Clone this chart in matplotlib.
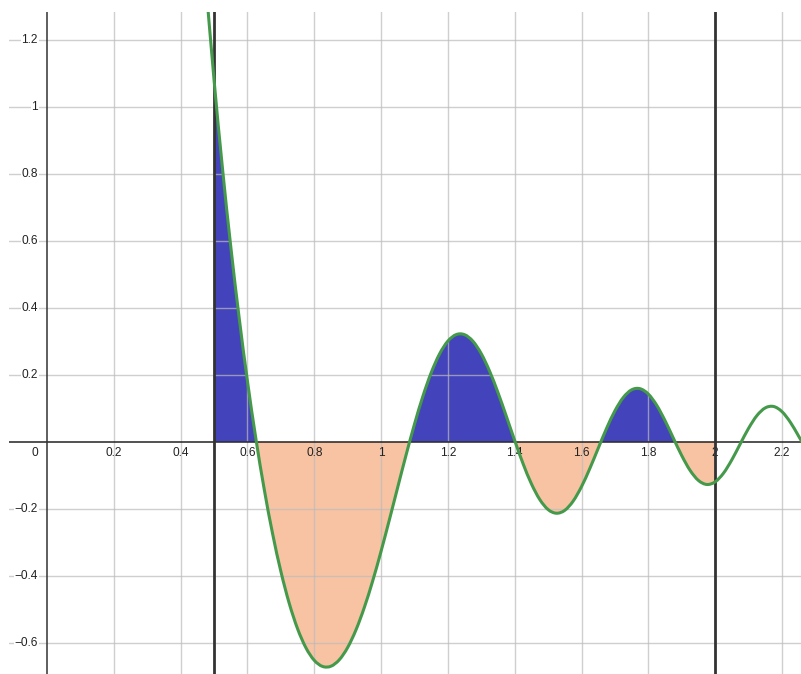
import numpy as np
import matplotlib
matplotlib.use("Agg")
import matplotlib.pyplot as plt
from matplotlib.path import Path
from matplotlib.patches import PathPatch

# curve values, step 0.025 from x = 0.475
x_vals = [0.475, 0.5, 0.525, 0.55, 0.575, 0.6, 0.625, 0.65, 0.675, 0.7,
          0.725, 0.75, 0.775, 0.8, 0.825, 0.85, 0.875, 0.9, 0.925, 0.95,
          0.975, 1.0, 1.025, 1.05, 1.075, 1.1, 1.125, 1.15, 1.175, 1.2,
          1.225, 1.25, 1.275, 1.3, 1.325, 1.35, 1.375, 1.4, 1.425, 1.45,
          1.475, 1.5, 1.525, 1.55, 1.575, 1.6, 1.625, 1.65, 1.675, 1.7,
          1.725, 1.75, 1.775, 1.8, 1.825, 1.85, 1.875, 1.9, 1.925, 1.95,
          1.975, 2.0, 2.025, 2.05, 2.075, 2.1, 2.125, 2.15, 2.175, 2.2,
          2.225, 2.25, 2.275]
y_vals = [1.3732, 1.0806, 0.8188, 0.5835, 0.3716, 0.1811, 0.0106, -0.1407, -0.2733, -0.3872,
          -0.4823, -0.5584, -0.6153, -0.6528, -0.6711, -0.6703, -0.6510, -0.6143, -0.5615, -0.4943,
          -0.4152, -0.3268, -0.2323, -0.1351, -0.0388, 0.0526, 0.1355, 0.2064, 0.2623, 0.3008,
          0.3202, 0.3198, 0.3002, 0.2629, 0.2105, 0.1467, 0.0760, 0.0036, -0.0653, -0.1255,
          -0.1724, -0.2025, -0.2134, -0.2046, -0.1771, -0.1339, -0.0795, -0.0194, 0.0401, 0.0925,
          0.1323, 0.1552, 0.1586, 0.1425, 0.1092, 0.0632, 0.0106, -0.0413, -0.0854, -0.1155,
          -0.1275, -0.1197, -0.0937, -0.0538, -0.0065, 0.0401, 0.0782, 0.1012, 0.1054, 0.0901,
          0.0585, 0.0167, -0.0269]

# shaded interval
a, b = 0.5, 2.0

x_ticks = [0.2, 0.4, 0.6, 0.8, 1.0, 1.2, 1.4, 1.6, 1.8, 2.0, 2.2]
x_labels = ["0.2", "0.4", "0.6", "0.8", "1", "1.2", "1.4", "1.6", "1.8", "2", "2.2"]
y_ticks = [-0.6, -0.4, -0.2, 0.2, 0.4, 0.6, 0.8, 1.0, 1.2]
y_labels = ["\u22120.6", "\u22120.4", "\u22120.2", "0.2", "0.4", "0.6", "0.8", "1", "1.2"]

plt.rcParams['font.family'] = ['Liberation Sans', 'DejaVu Sans']

fig = plt.figure(figsize=(8.01, 6.74), dpi=100)
ax = fig.add_axes([9 / 801, 0, 792 / 801, 662 / 674])
ax.set_xlim(-0.1138, 2.257)
ax.set_ylim(-0.6936, 1.2837)
ax.axis('off')

x = np.array(x_vals)
y = np.array(y_vals)

# fill between a and b
m = (x >= a) & (x <= b)
ax.fill_between(x[m], y[m], 0, where=y[m] >= 0, interpolate=True,
                color='#4343bb', linewidth=0, zorder=1)
ax.fill_between(x[m], y[m], 0, where=y[m] <= 0, interpolate=True,
                color='#f8c3a3', linewidth=0, zorder=1)

# grid
for gx in x_ticks:
    ax.axvline(gx, color='#bbbbbb', alpha=0.7, lw=1.0, zorder=2)
for gy in y_ticks:
    ax.axhline(gy, color='#bbbbbb', alpha=0.7, lw=1.0, zorder=2)

# axes lines
ax.axhline(0, color='#222222', lw=1.1, zorder=3)
ax.axvline(0, color='#333333', lw=1.1, zorder=3)

fs = 8.6
for gx, t in zip(x_ticks, x_labels):
    ax.text(gx, -0.0335, t, ha='center', va='center', fontsize=fs,
            color='#222222', zorder=4)
for gy, t in zip(y_ticks, y_labels):
    ax.text(-0.027, gy, t, ha='right', va='center', fontsize=fs, color='#222222',
            zorder=4, bbox=dict(facecolor='white', edgecolor='none', pad=0.6))
ax.text(-0.036, -0.0335, "0", ha='center', va='center', fontsize=fs,
        color='#222222', zorder=4)

# bounds of the interval
ax.axvline(a, color='#333333', lw=2.0, zorder=5)
ax.axvline(b, color='#333333', lw=2.0, zorder=5)

# smooth line through the read points (catmull-rom as bezier segments)
pts = np.column_stack([x, y])
n = len(pts)
verts = [pts[0]]
codes = [Path.MOVETO]
for i in range(n - 1):
    p0 = pts[max(i - 1, 0)]
    p1 = pts[i]
    p2 = pts[i + 1]
    p3 = pts[min(i + 2, n - 1)]
    verts += [p1 + (p2 - p0) / 6, p2 - (p3 - p1) / 6, p2]
    codes += [Path.CURVE4] * 3
curve = PathPatch(Path(verts, codes), fill=False, edgecolor='#449a4a',
                  lw=2.2, zorder=6, capstyle='round', joinstyle='round')
ax.add_patch(curve)

fig.savefig("out.png", dpi=100)
